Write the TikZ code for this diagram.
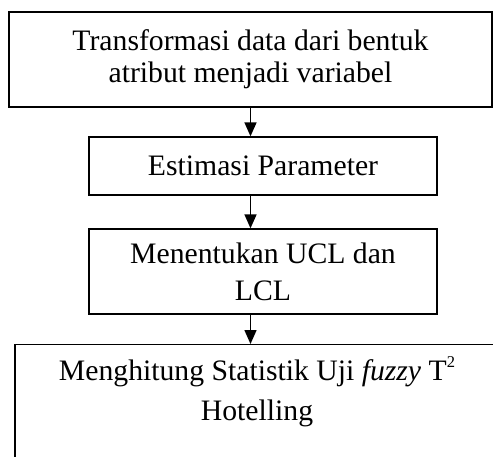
\documentclass[tikz,border=0pt]{standalone}
\usepackage{fontspec}
\setmainfont{Liberation Serif}
\usetikzlibrary{arrows.meta}

\begin{document}
\begin{tikzpicture}[x=1pt,y=-1pt,
    langkah/.style={draw,line width=1.3pt,align=center,inner sep=0pt,
      font=\fontsize{29.7}{32}\selectfont},
    panah/.style={line width=1.5pt,-{Triangle[width=12pt,length=14pt]}}]
      \clip (0,0) rectangle (493,456) ;
      \fill[white] (0,0) rectangle (493,456) ;
      \node[langkah,minimum width=483pt,minimum height=95pt] %
      (b1) at (250.5,59.5) {Transformasi data dari bentuk\\atribut menjadi variabel} ;
      \node[langkah,minimum width=348pt,minimum height=58pt] %
      (b2) at (263,166) {Estimasi Parameter} ;
      \node[langkah,minimum width=348pt,minimum height=85pt] %
      (b3) at (263,271.5) {Menentukan UCL dan\\[5pt]LCL} ;
      % kotak terakhir terpotong di bawah
      \node[langkah,anchor=north,minimum width=484pt,inner ysep=16pt,
      text height=60pt,text depth=130pt] %
      (b4) at (257,344) {Menghitung Statistik Uji \textit{fuzzy} %
      T\raisebox{13pt}{\fontsize{16.5}{16.5}\selectfont 2}\\[8pt]Hotelling} ;
      \draw[panah] (b1.south) -- (b1.south |- b2.north) ;
      \draw[panah] (b1.south |- b2.south) -- (b1.south |- b3.north) ;
      \draw[panah] (b1.south |- b3.south) -- (b1.south |- b4.north) ;
    \end{tikzpicture}
\end{document}
